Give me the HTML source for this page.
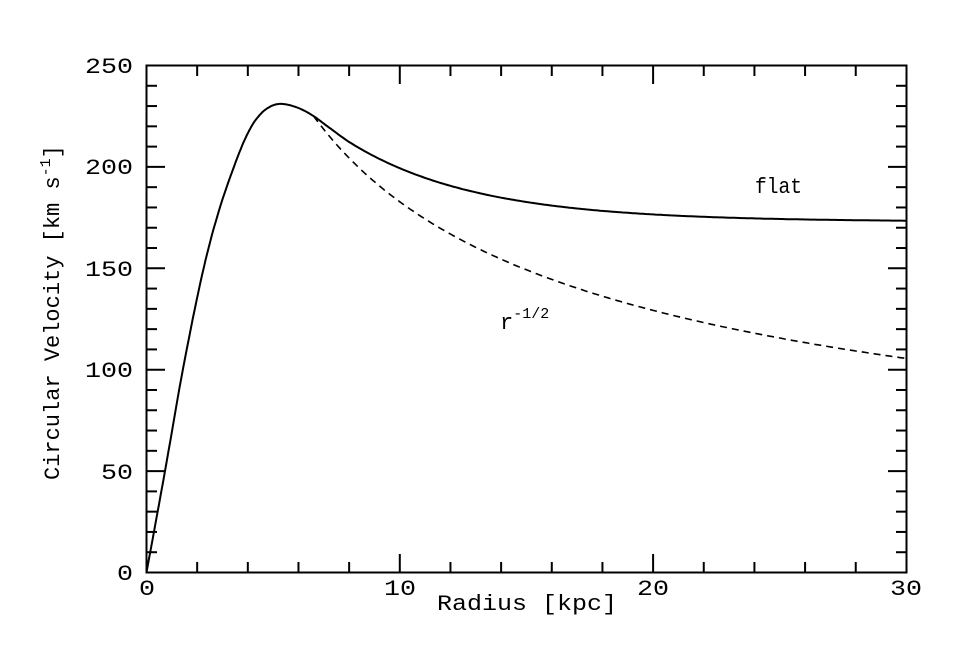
<!DOCTYPE html>
<html><head><meta charset="utf-8"><style>
html,body{margin:0;padding:0;background:#fff;}
svg text{font-family:"Liberation Mono","DejaVu Sans Mono",monospace;fill:#000;}
</style></head><body>
<svg id="s" width="975" height="650" viewBox="0 0 975 650" xmlns="http://www.w3.org/2000/svg">
<rect x="146.5" y="65.5" width="760" height="507" fill="none" stroke="#000" stroke-width="2"/>
<g id="ticks" stroke="#000" stroke-width="2"></g>
<g font-size="22" text-anchor="middle">
<text x="147" y="595" textLength="16" lengthAdjust="spacingAndGlyphs">0</text>
<text x="400" y="595" textLength="32" lengthAdjust="spacingAndGlyphs">10</text>
<text x="653" y="595" textLength="32" lengthAdjust="spacingAndGlyphs">20</text>
<text x="906" y="595" textLength="32" lengthAdjust="spacingAndGlyphs">30</text>
</g>
<g font-size="22" text-anchor="end">
<text x="133" y="580" textLength="16" lengthAdjust="spacingAndGlyphs">0</text>
<text x="133" y="479" textLength="32" lengthAdjust="spacingAndGlyphs">50</text>
<text x="133" y="377" textLength="48" lengthAdjust="spacingAndGlyphs">100</text>
<text x="133" y="276" textLength="48" lengthAdjust="spacingAndGlyphs">150</text>
<text x="133" y="174" textLength="48" lengthAdjust="spacingAndGlyphs">200</text>
<text x="133" y="73" textLength="48" lengthAdjust="spacingAndGlyphs">250</text>
</g>
<text x="437" y="610" font-size="22" textLength="180" lengthAdjust="spacingAndGlyphs">Radius [kpc]</text>
<text transform="translate(59,480) rotate(-90)" font-size="22">Circular Velocity [km s<tspan dy="-9" font-size="15">-1</tspan><tspan dy="9">]</tspan></text>
<text x="755" y="193" font-size="22" textLength="47" lengthAdjust="spacingAndGlyphs">flat</text>
<text x="500" y="329" font-size="22">r<tspan dy="-11" font-size="15">-1/2</tspan></text>
<path id="solid" fill="none" stroke="#000" stroke-width="2"/>
<path id="dash" fill="none" stroke="#000" stroke-width="1.6" stroke-dasharray="7,5"/>
</svg>
<script>
var X=function(r){return 146.5+r*25.33;},Y=function(v){return 572.5-v*2.028;};
var t=document.getElementById('ticks'),h='';
for(var i=1;i<15;i++){var x=X(i*2),L=(i%5==0)?18:10;h+='<line x1="'+x+'" y1="572" x2="'+x+'" y2="'+(572-L)+'"/><line x1="'+x+'" y1="66" x2="'+x+'" y2="'+(66+L)+'"/>';}
for(var j=1;j<25;j++){var y=Y(j*10),L=(j%5==0)?18:10;h+='<line x1="147" y1="'+y+'" x2="'+(147+L)+'" y2="'+y+'"/><line x1="906" y1="'+y+'" x2="'+(906-L)+'" y2="'+y+'"/>';}
t.innerHTML=h;
var pts=[[0,0],[0.73,50],[1.45,101],[2.2,147],[2.85,178],[3.6,205],[4.1,219],[4.5,226],[4.85,229.5],[5.2,231],[5.6,230.6],[6.1,228.5],[6.6,225],[7.2,219.5],[8,212.5]];
function f(a,b,c,e,s){var s2=s*s,s3=s2*s;return 0.5*((2*b)+(-a+c)*s+(2*a-5*b+4*c-e)*s2+(-a+3*b-3*c+e)*s3);}
var sd='M'+X(0)+','+Y(0);
for(var i=0;i<pts.length-2;i++){var p0=pts[Math.max(i-1,0)],p1=pts[i],p2=pts[i+1],p3=pts[i+2];
for(var k=1;k<=10;k++){var s=k/10;sd+=' L'+X(f(p0[0],p1[0],p2[0],p3[0],s)).toFixed(1)+','+Y(f(p0[1],p1[1],p2[1],p3[1],s)).toFixed(1);}}
var n=pts.length,a=pts[n-2],b=pts[n-1];
for(var r=7.3;r<=30.001;r+=0.1){var v=173+52*Math.exp(-(r-6.6)/5);if(r<8){var w=(r-7.2)/0.8;v=v*w+(a[1]+(b[1]-a[1])*w)*(1-w);}sd+=' L'+X(r).toFixed(1)+','+Y(v).toFixed(1);}
var dd='M'+X(6.6)+','+Y(225);
for(var r=6.7;r<=30.001;r+=0.1){dd+=' L'+X(r).toFixed(1)+','+Y(225*Math.sqrt(6.6/r)).toFixed(1);}
document.getElementById('solid').setAttribute('d',sd);
document.getElementById('dash').setAttribute('d',dd);
</script>
</body></html>
